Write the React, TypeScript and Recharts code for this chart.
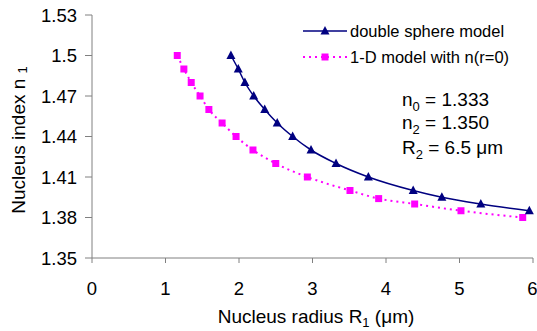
import { LineChart, Line, XAxis, YAxis, Label, Legend } from "recharts";

const xTicks = [0, 1, 2, 3, 4, 5, 6];
const yTicks = [1.35, 1.38, 1.41, 1.44, 1.47, 1.5, 1.53];

// double sphere model
const sphereR = [1.89, 1.99, 2.08, 2.2, 2.35, 2.52, 2.73, 2.98, 3.32, 3.76, 4.37, 4.76, 5.29, 5.95];
const sphereN = [1.5, 1.49, 1.48, 1.47, 1.46, 1.45, 1.44, 1.43, 1.42, 1.41, 1.4, 1.395, 1.39, 1.385];

// 1-D model with n(r=0)
const oneDR = [1.16, 1.25, 1.35, 1.47, 1.59, 1.77, 1.96, 2.19, 2.5, 2.93, 3.51, 3.9, 4.39, 5.02, 5.86];
const oneDN = [1.5, 1.49, 1.48, 1.47, 1.46, 1.45, 1.44, 1.43, 1.42, 1.41, 1.4, 1.394, 1.39, 1.385, 1.38];

const sphereData = sphereR.map((x, i) => ({ x, y: sphereN[i] }));
const oneDData = oneDR.map((x, i) => ({ x, y: oneDN[i] }));

const NAVY = "#000080";
const PINK = "#FF00FF";
const FONT = "'Liberation Sans', Arial, sans-serif";

function Tri({ cx, cy, color }: { cx: number; cy: number; color: string }) {
  return <polygon points={`${cx},${cy - 5} ${cx - 4.5},${cy + 3.5} ${cx + 4.5},${cy + 3.5}`} fill={color} />;
}

function Sq({ cx, cy, color }: { cx: number; cy: number; color: string }) {
  return <rect x={cx - 3.5} y={cy - 3.5} width={7} height={7} fill={color} />;
}

function LegendBox() {
  return (
    <svg width={236} height={54} style={{ display: "block", fontFamily: FONT, overflow: "visible" }}>
      <line x1={3} x2={47} y1={13} y2={13} stroke={NAVY} strokeWidth={1.5} />
      <Tri cx={25} cy={13} color={NAVY} />
      <text x={50} y={13} dominantBaseline="central" fontSize={16.5} fill="#000">
        double sphere model
      </text>
      <line x1={3} x2={47} y1={39} y2={39} stroke={PINK} strokeWidth={2} strokeDasharray="2 4" />
      <Sq cx={25} cy={39} color={PINK} />
      <text x={50} y={39} dominantBaseline="central" fontSize={16.5} fill="#000">
        1-D model with n(r=0)
      </text>
    </svg>
  );
}

function Note({ x, y, main, sub, rest }: { x: number; y: number; main: string; sub: string; rest: string }) {
  return (
    <text x={x} y={y} fontSize={19} fontFamily={FONT} fill="#000">
      {main}
      <tspan fontSize={13} dy={5}>{sub}</tspan>
      <tspan dy={-5}>{rest}</tspan>
    </text>
  );
}

export default function App() {
  return (
    <div style={{ position: "absolute", left: 0, top: 0, width: 537, height: 331, background: "#fff", fontFamily: FONT }}>
      <LineChart width={537} height={331} margin={{ top: 15, right: 4, bottom: 0, left: 0 }}>
        <XAxis
          type="number"
          dataKey="x"
          domain={[0, 6]}
          ticks={xTicks}
          height={73}
          tickSize={5}
          tickMargin={19}
          stroke="#808080"
          tick={{ fill: "#000", fontSize: 18.5, fontFamily: FONT }}
        >
          <Label
            content={() => (
              <text x={316} y={323} textAnchor="middle" fontSize={19} fontFamily={FONT} fill="#000">
                Nucleus radius R
                <tspan fontSize={13} dy={4}>1</tspan>
                <tspan dy={-4}> (μm)</tspan>
              </text>
            )}
          />
        </XAxis>
        <YAxis
          type="number"
          dataKey="y"
          domain={[1.35, 1.53]}
          ticks={yTicks}
          width={92}
          tickSize={7}
          tickMargin={8}
          stroke="#808080"
          tickFormatter={(v: number) => String(v)}
          tick={{ fill: "#000", fontSize: 18.5, fontFamily: FONT }}
        >
          <Label
            content={() => (
              <g>
                <text
                  x={18}
                  y={140}
                  transform="rotate(-90, 18, 140)"
                  textAnchor="middle"
                  dominantBaseline="central"
                  fontSize={19}
                  fontFamily={FONT}
                  fill="#000"
                >
                  Nucleus index n <tspan fontSize={13} dy={4}>1</tspan>
                </text>
                <Note x={402} y={106} main="n" sub="0" rest=" = 1.333" />
                <Note x={402} y={129} main="n" sub="2" rest=" = 1.350" />
                <Note x={402} y={154} main="R" sub="2" rest=" = 6.5 μm" />
              </g>
            )}
          />
        </YAxis>
        <Legend
          layout="vertical"
          align="center"
          verticalAlign="middle"
          content={() => <LegendBox />}
          wrapperStyle={{ top: 18, left: 300, width: 236, height: 54 }}
        />
        <Line
          data={oneDData}
          dataKey="y"
          type="monotone"
          stroke={PINK}
          strokeWidth={2}
          strokeDasharray="2 4"
          isAnimationActive={false}
          dot={(p: any) => <Sq key={`p${p.index}`} cx={p.cx} cy={p.cy} color={PINK} />}
          activeDot={false}
        />
        <Line
          data={sphereData}
          dataKey="y"
          type="monotone"
          stroke={NAVY}
          strokeWidth={1.5}
          isAnimationActive={false}
          dot={(p: any) => <Tri key={`n${p.index}`} cx={p.cx} cy={p.cy} color={NAVY} />}
          activeDot={false}
        />
      </LineChart>
    </div>
  );
}
